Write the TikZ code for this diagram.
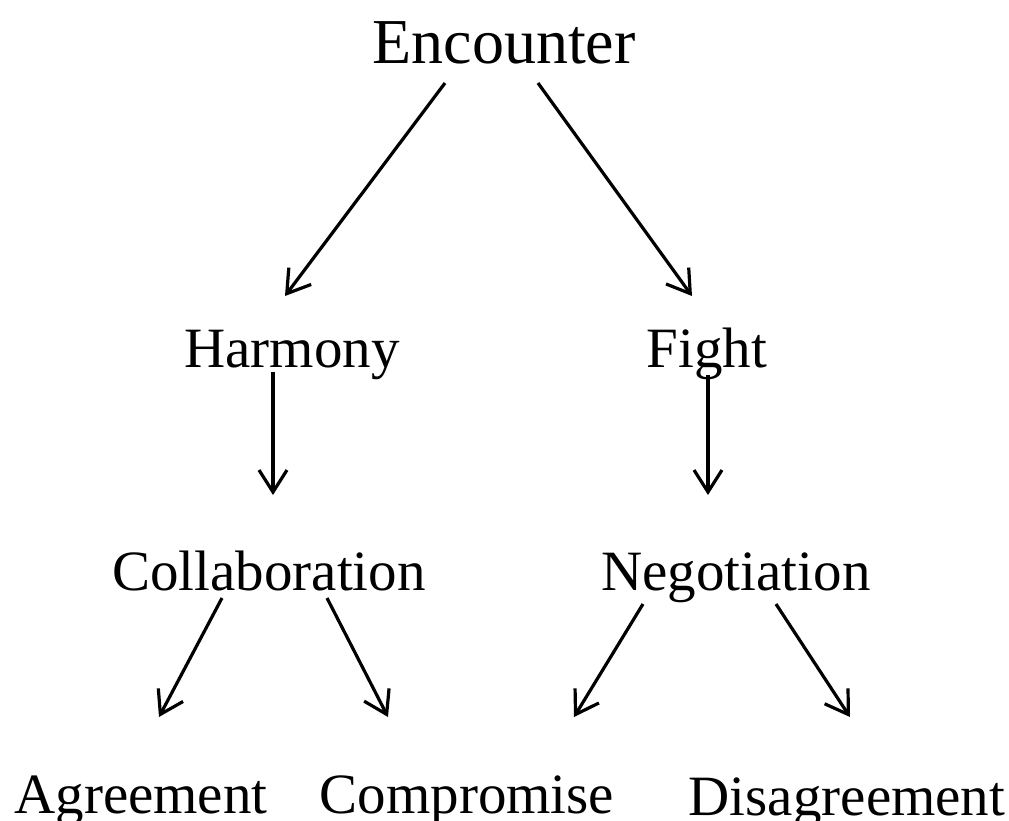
\documentclass[tikz,border=0pt]{standalone}
\usepackage{fontspec}
\setmainfont{Liberation Serif}
\usetikzlibrary{calc,arrows.meta}

\begin{document}
\begin{tikzpicture}[
    x=0.5pt,y=-0.5pt,
    word/.style={anchor=base,inner sep=0pt,font=\fontsize{28.5pt}{34pt}\selectfont},
    bigword/.style={word,font=\fontsize{32pt}{38pt}\selectfont},
    link/.style={line width=1.6pt,-{Straight Barb[length=11pt,width=14pt,line width=1.6pt]}}
    ]

    \useasboundingbox (0,0) rectangle (1009,821);

    \node(enc) [bigword] at (504,63) {Encounter};

    \node(harm) [word] at (292,367) {Harmony};
    \node(fight) [word] at (707,367) {Fight};

    \node(collab) [word] at (269,590) {Collaboration};
    \node(nego) [word] at (736,590) {Negotiation};

    \node(agree) [word] at (141,813) {Agreement};
    \node(comp) [word] at (467,813) {Compromise};
    \node(disagree) [word] at (847,815) {Disagreement};

    \draw[link] ($(enc.base)+(-59,20)$) -- ($(harm.base)+(-7,-71)$);
    \draw[link] ($(enc.base)+(34,20)$) -- ($(fight.base)+(-15,-71)$);

    \draw[link] ($(harm.base)+(-19,5)$) -- ($(collab.base)+(4,-95)$);
    \draw[link] ($(fight.base)+(1,8)$) -- ($(nego.base)+(-28,-95)$);

    \draw[link] ($(collab.base)+(-47,8)$) -- ($(agree.base)+(18,-96)$);
    \draw[link] ($(collab.base)+(58,8)$) -- ($(comp.base)+(-79,-96)$);
    \draw[link] ($(nego.base)+(-93,14)$) -- ($(comp.base)+(107,-96)$);
    \draw[link] ($(nego.base)+(40,14)$) -- ($(disagree.base)+(3,-98)$);

\end{tikzpicture}
\end{document}
